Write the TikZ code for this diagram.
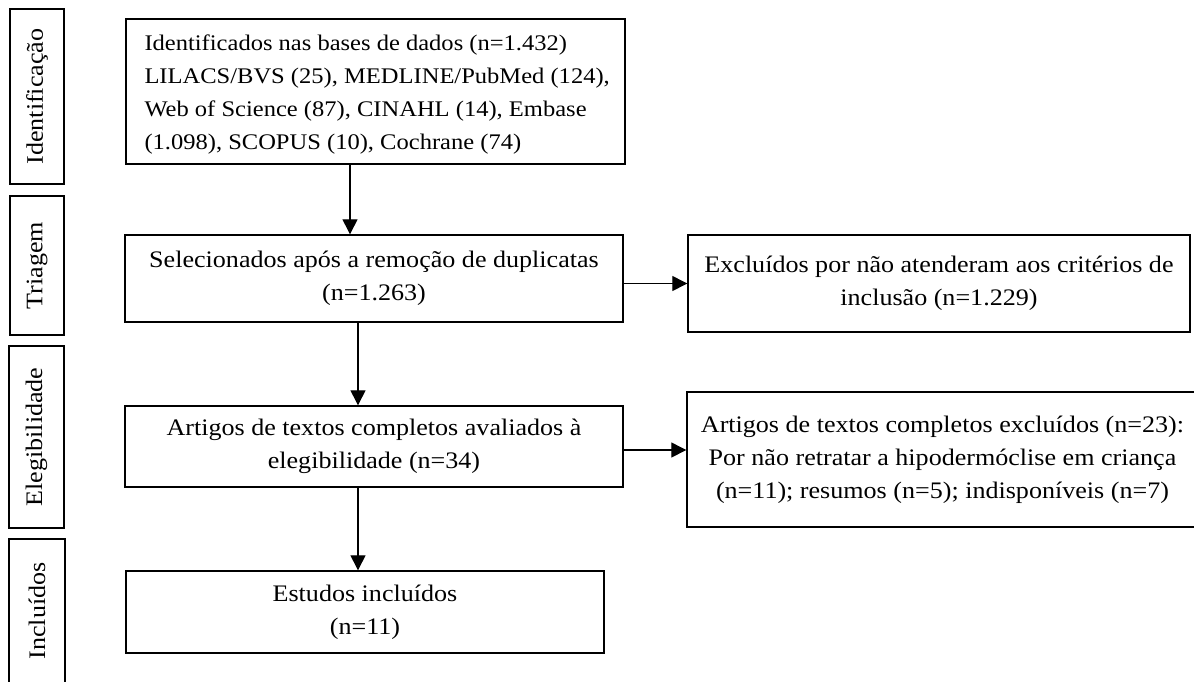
\documentclass[tikz,border=0pt]{standalone}
\usepackage{fontspec}
\setmainfont{Liberation Serif}[FakeStretch=1.1]
\usetikzlibrary{arrows.meta}
\begin{document}
\begin{tikzpicture}[x=1pt,y=-1pt,
  txt/.style={inner sep=0pt, align=center, font=\fontsize{23.7}{33}\selectfont},
  box/.style={txt, draw, line width=1.4pt},
  lbl/.style={box, rotate=90},
  arr/.style={line width=1.3pt, -{Triangle[length=15pt,width=15pt]}}]
\useasboundingbox (0,0) rectangle (1194,681);
% stage labels
\node[lbl, minimum width=175pt, minimum height=54pt] (lid) at (37,96.5) {Identificação};
\node[lbl, minimum width=139pt, minimum height=54pt] (ltr) at (37,265.5) {Triagem};
\node[lbl, minimum width=182pt, minimum height=55pt] (lel) at (36.5,437) {Elegibilidade};
\node[lbl, minimum width=144pt, minimum height=56pt] (lin) at (37,611) {Incluídos};
% main boxes
\node[box, minimum width=499pt, minimum height=145pt] (ident) at (375.5,91.5) {};
\node[txt, align=left, anchor=west, font=\fontsize{22.3}{33}\selectfont] (identtxt)
  at ([xshift=19pt,yshift=-3pt]ident.west)
  {Identificados nas bases de dados (n=1.432)\\
   LILACS/BVS (25), MEDLINE/PubMed (124),\\
   Web of Science (87), CINAHL (14), Embase\\
   (1.098), SCOPUS (10), Cochrane (74)};
\node[box, minimum width=498pt, minimum height=87pt] (sel) at (374,278.5)
  {Selecionados após a remoção de duplicatas\\(n=1.263)};
\node[box, minimum width=502pt, minimum height=97pt] (excl) at (939,283.5)
  {Excluídos por não atenderam aos critérios de\\inclusão (n=1.229)};
\node[box, minimum width=498pt, minimum height=81pt] (art) at (374,446.5)
  {Artigos de textos completos avaliados à\\elegibilidade (n=34)};
\node[box, minimum width=511pt, minimum height=135pt] (artx) at (942.5,459.5)
  {Artigos de textos completos excluídos (n=23):\\
   Por não retratar a hipodermóclise em criança\\
   (n=11); resumos (n=5); indisponíveis (n=7)};
\node[box, minimum width=478pt, minimum height=82pt] (est) at (365,612)
  {Estudos incluídos\\(n=11)};
% connectors
\coordinate (a1) at (350,0);
\coordinate (a2) at (358,0);
\coordinate (h2) at (0,450);
\draw[arr] (ident.south -| a1) -- (sel.north -| a1);
\draw[arr] (sel.south -| a2) -- (art.north -| a2);
\draw[arr] (art.south -| a2) -- (est.north -| a2);
\draw[arr] (sel.east |- excl.west) -- (excl.west);
\draw[arr] (art.east |- h2) -- (artx.west |- h2);
\end{tikzpicture}
\end{document}
